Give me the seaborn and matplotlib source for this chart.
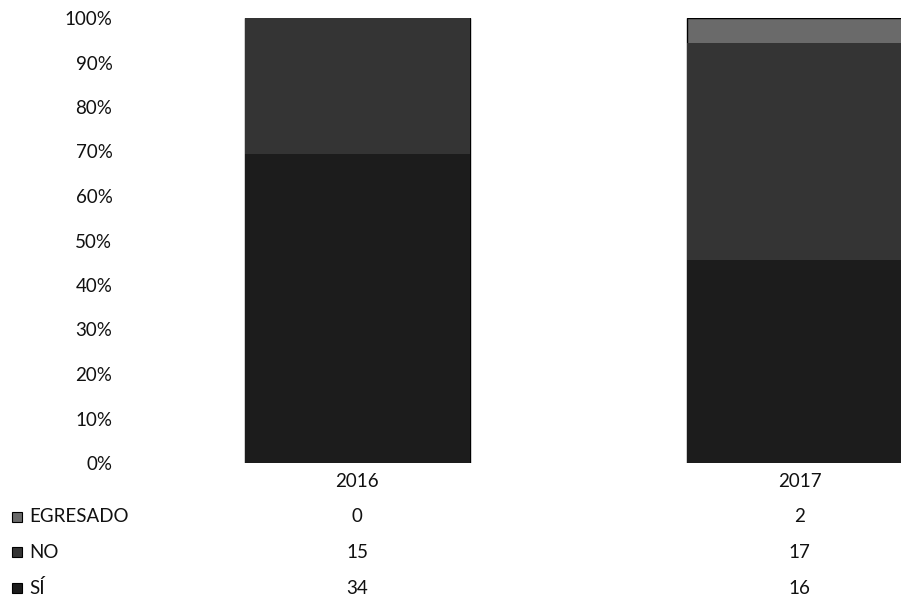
import matplotlib
matplotlib.use("Agg")
import matplotlib.pyplot as plt
import matplotlib.transforms as mtransforms
from matplotlib.patches import Rectangle
import numpy as np
import pandas as pd
import seaborn as sns

# ---- data ----
years = ["2016", "2017"]
series = ["EGRESADO", "NO", "SÍ"]          # table order (top to bottom)
egresado = [0, 2]
no = [15, 17]
si = [34, 16]
yticks = [0, 10, 20, 30, 40, 50, 60, 70, 80, 90, 100]

colors = {"SÍ": "#1c1c1c", "NO": "#343434", "EGRESADO": "#6a6a6a"}

sns.set_theme(style="white")
plt.rcParams["font.family"] = ["Lato", "DejaVu Sans"]

df = pd.DataFrame({"year": years, "EGRESADO": egresado, "NO": no, "SÍ": si})
total = df[["EGRESADO", "NO", "SÍ"]].sum(axis=1)
df["p_si"] = df["SÍ"] / total * 100
df["p_no"] = df["p_si"] + df["NO"] / total * 100
df["p_eg"] = df["p_no"] + df["EGRESADO"] / total * 100

fig = plt.figure(figsize=(9.01, 6.02), dpi=100)
W, H = 901, 602
ax = fig.add_axes([136 / W, (H - 463) / H, 765 / W, 445 / H])

bw = 0.508
sns.barplot(data=df, x="year", y="p_eg", color=colors["EGRESADO"], width=bw,
            saturation=1, ax=ax, edgecolor="black", linewidth=1)
sns.barplot(data=df, x="year", y="p_no", color=colors["NO"], width=bw,
            saturation=1, ax=ax, edgecolor="black", linewidth=0)
sns.barplot(data=df, x="year", y="p_si", color=colors["SÍ"], width=bw,
            saturation=1, ax=ax, edgecolor="black", linewidth=0)

ax.set_xlim(-0.5, -0.5 + 765 / 442.5)
ax.set_ylim(0, 100)
ax.set_yticks(yticks)
ax.set_yticklabels([f"{v}%" for v in yticks], fontsize=13.5, color="#111111")
ax.tick_params(axis="y", length=0, pad=17)
ax.tick_params(axis="x", length=0, pad=7, labelsize=13.5, labelcolor="#111111")
ax.set_xlabel("")
ax.set_ylabel("")
for s in ax.spines.values():
    s.set_visible(False)
ax.grid(False)

# data table below the chart
row_y = {"EGRESADO": 517, "NO": 552, "SÍ": 588}
values = {"EGRESADO": egresado, "NO": no, "SÍ": si}
trans = mtransforms.blended_transform_factory(ax.transData, fig.transFigure)
for name in series:
    yf = (H - row_y[name]) / H
    fig.text(29 / W, yf, name, ha="left", va="center", fontsize=13.5, color="#111111")
    fig.patches.append(Rectangle((12 / W, yf - 5 / H), 10 / W, 10 / H,
                                 transform=fig.transFigure, facecolor=colors[name],
                                 edgecolor="black", linewidth=0.8))
    for i, v in enumerate(values[name]):
        ax.text(i, yf, str(v), transform=trans, ha="center", va="center",
                fontsize=13.5, color="#111111", clip_on=False)

fig.savefig("out.png", dpi=100)
